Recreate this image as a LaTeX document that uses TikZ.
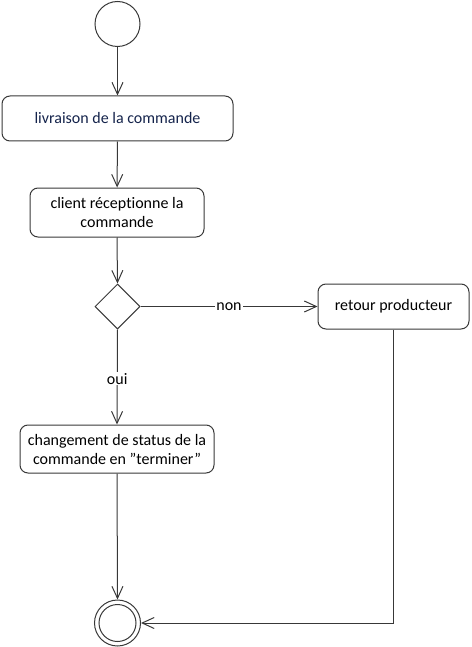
\documentclass[tikz,border=0pt]{standalone}
\usepackage{fontspec}
\setmainfont{Carlito}[Ligatures={NoCommon}]
\usetikzlibrary{arrows.meta,shapes.geometric}

\begin{document}
\begin{tikzpicture}[x=1pt,y=-1pt]

		\tikzset{action/.style={draw=linegray,line width=1pt,rounded corners=8pt,align=center,inner sep=2pt,font=\fontsize{16}{19}\selectfont},
			flow/.style={draw=linegray,line width=1pt,-{Straight Barb[length=12pt,width=11pt,line width=1pt]}},
			guard/.style={fill=white,inner sep=1pt,font=\fontsize{16}{19}\selectfont}}
		\colorlet{linegray}{black!78}
		\useasboundingbox (0,0) rectangle (471,647);

		\node[circle,draw=linegray,line width=1pt,minimum size=45pt,inner sep=0pt] (start) at (117.5,24) {};
		\node[action,minimum width=231pt,minimum height=45pt,text={rgb,255:red,20;green,35;blue,75}] (livraison) at (117.5,118.5) {livraison de la commande};
		\node[action,minimum width=174pt,minimum height=49pt] (reception) at (117,212.5) {client réceptionne la\\commande};
		\node[diamond,draw=linegray,line width=1pt,minimum width=45pt,minimum height=45pt,inner sep=0pt] (choix) at (117.5,306.5) {};
		\node[action,minimum width=151pt,minimum height=45pt] (retour) at (393.5,306.5) {retour producteur};
		\node[action,minimum width=194pt,minimum height=48pt] (statut) at (117,449) {changement de status de la\\commande en \symbol{34}terminer\symbol{34}};
		\node[circle,draw=linegray,line width=1pt,minimum size=46pt,inner sep=0pt] (fin) at (117.5,623) {};
		\node[circle,draw=linegray,line width=1pt,minimum size=37pt,inner sep=0pt] (finin) at (fin) {};

		\draw[flow] (start) -- (livraison);
		\draw[flow] (livraison) -- (reception);
		\draw[flow] (reception.south) -- (choix.north);
		\draw[flow] (choix.east) -- node[guard,pos=0.5] (non) {non} (retour.west);
		\draw[flow] (choix.south) -- node[guard,pos=0.52] (oui) {oui} (statut.north);
		\draw[flow] (statut.south) -- (fin.north);
		\draw[flow] (retour.south) |- (fin.east);

\end{tikzpicture}
\end{document}
